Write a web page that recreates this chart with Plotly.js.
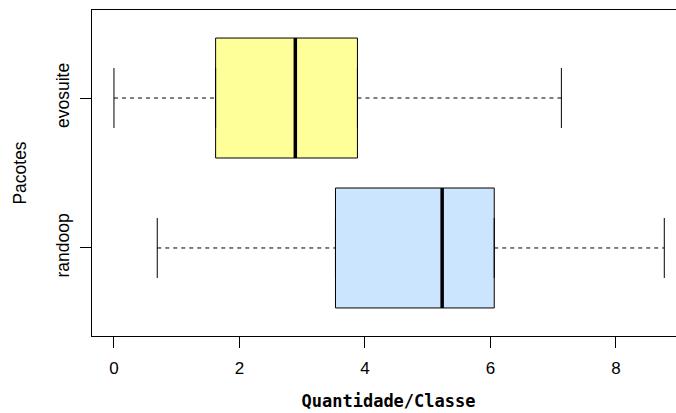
<!DOCTYPE html>
<html>
<head>
<meta charset="utf-8">
<script src="https://cdn.plot.ly/plotly-3.0.1.min.js"></script>
<style>
html,body{margin:0;padding:0;overflow:hidden;background:#fff;width:676px;height:413px;}
#chart{width:690px;height:413px;}
</style>
</head>
<body>
<div id="chart"></div>
<script>
// Data
const categories = ["randoop", "evosuite"];       // bottom to top
const lowerWhisker = [0.69, 0.00];
const q1Values     = [3.53, 1.62];
const medianValues = [5.23, 2.89];
const q3Values     = [6.06, 3.88];
const upperWhisker = [8.77, 7.13];
const boxColors    = ["#CCE5FF", "#FFFF99"];
const xTickVals    = [0, 2, 4, 6, 8];

const boxHalf = 0.4, capHalf = 0.2;
const traces = [];
categories.forEach((cat, i) => {
  traces.push({
    type: "box", orientation: "h",
    y: [i], q1: [q1Values[i]], median: [medianValues[i]], q3: [q3Values[i]],
    lowerfence: [q1Values[i]], upperfence: [q3Values[i]],
    width: 2 * boxHalf, fillcolor: boxColors[i],
    line: {color: "#000", width: 1}, hoverinfo: "skip", showlegend: false
  });
  // median
  traces.push({type: "scatter", mode: "lines", x: [medianValues[i], medianValues[i]],
    y: [i - boxHalf, i + boxHalf], line: {color: "#000", width: 3.5},
    hoverinfo: "skip", showlegend: false});
  // whiskers (dashed)
  traces.push({type: "scatter", mode: "lines",
    x: [lowerWhisker[i], q1Values[i], null, q3Values[i], upperWhisker[i]],
    y: [i, i, null, i, i], line: {color: "#000", width: 1, dash: "4px,4px"},
    hoverinfo: "skip", showlegend: false});
  // caps
  traces.push({type: "scatter", mode: "lines",
    x: [lowerWhisker[i], lowerWhisker[i], null, upperWhisker[i], upperWhisker[i]],
    y: [i - capHalf, i + capHalf, null, i - capHalf, i + capHalf],
    line: {color: "#000", width: 1}, hoverinfo: "skip", showlegend: false});
});

const layout = {
  width: 690, height: 413,
  margin: {l: 92, r: 5, t: 10, b: 77},
  paper_bgcolor: "#fff", plot_bgcolor: "#fff",
  showlegend: false,
  font: {family: "Liberation Sans, Arial, sans-serif", size: 17, color: "#000"},
  xaxis: {
    range: [-0.35, 9.1], tickvals: xTickVals, ticktext: xTickVals.map(String),
    showgrid: false, zeroline: false,
    showline: true, mirror: true, linecolor: "#000", linewidth: 1,
    ticks: "outside", ticklen: 11, tickcolor: "#000", tickwidth: 1,
    ticklabelstandoff: 6,
    tickfont: {size: 17},
    title: {text: "Quantidade/Classe", standoff: 17,
      font: {family: "DejaVu Sans Mono, monospace", size: 17, weight: "bold"}}
  },
  yaxis: {
    range: [-0.587, 1.587], tickvals: [0, 1], ticktext: categories,
    showgrid: false, zeroline: false,
    showline: true, mirror: true, linecolor: "#000", linewidth: 1,
    ticks: "outside", ticklen: 11, tickcolor: "#000", tickwidth: 1,
    tickangle: -90, ticklabelstandoff: 4,
    tickfont: {size: 17.5},
    title: {text: "Pacotes", standoff: 21, font: {size: 17.5}}
  }
};

Plotly.newPlot("chart", traces, layout, {staticPlot: true, displayModeBar: false});
</script>
</body>
</html>
